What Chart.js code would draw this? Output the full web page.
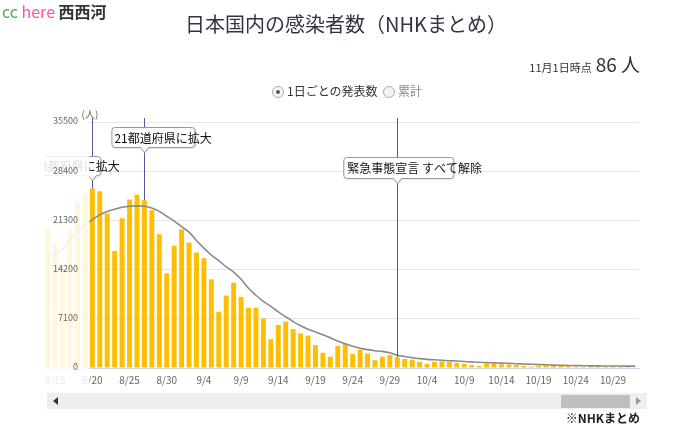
<!DOCTYPE html>
<html>
<head>
<meta charset="utf-8">
<script src="https://cdn.jsdelivr.net/npm/chart.js@4"></script>
<style>
  body { margin: 0; width: 684px; height: 436px; overflow: hidden; background: #fff;
         font-family: "Noto Sans CJK JP", "Noto Sans", sans-serif; color: #333; }
  #chart { position: absolute; left: 0; top: 0; }
  .abs { position: absolute; white-space: nowrap; }
  #logo { left: 2px; top: 0px; font-size: 16px; line-height: 22px; }
  #title { left: 0; width: 692px; top: 10px; text-align: center; font-size: 20px; line-height: 28px; color: #333344; }
  #asof { right: 44px; top: 50px; font-size: 11px; line-height: 28px; }
  #asof b { font-weight: normal; font-size: 19px; margin-left: 4px; }
  #radios { left: 272px; top: 82px; font-size: 12px; line-height: 18px; }
  .rb { display: inline-block; width: 10px; height: 10px; border: 1px solid #aaa; border-radius: 50%;
        vertical-align: -2px; position: relative; margin-right: 3px; background: #f4f4f4; }
  .rb.on::after { content: ""; position: absolute; left: 3px; top: 3px; width: 4px; height: 4px;
        border-radius: 50%; background: #4a5a70; }
  #scroll { left: 47px; top: 393px; width: 600px; height: 16px; background: #efefef; }
  #thumb { left: 561px; top: 395px; width: 69px; height: 13px; background: #bfbfbf; }
  #arrL { left: 53px; top: 397px; width: 0; height: 0; border-top: 4px solid transparent;
          border-bottom: 4px solid transparent; border-right: 5px solid #333; }
  #arrR { left: 636px; top: 397px; width: 0; height: 0; border-top: 4px solid transparent;
          border-bottom: 4px solid transparent; border-left: 5px solid #999; }
  #src { right: 44px; top: 409px; font-size: 12px; font-weight: bold; line-height: 18px; color: #222; }
</style>
</head>
<body>
<canvas id="chart" width="684" height="436"></canvas>
<div class="abs" id="logo"><span style="color:#4caf50">cc</span> <span style="color:#ff4fa3">here</span> <span style="font-weight:bold;color:#333">西西河</span></div>
<div class="abs" id="title">日本国内の感染者数（NHKまとめ）</div>
<div class="abs" id="asof">11月1日時点<b>86 人</b></div>
<div class="abs" id="radios"><span class="rb on"></span>1日ごとの発表数 &nbsp;<span class="rb"></span><span style="color:#888">累計</span></div>
<div class="abs" id="scroll"></div>
<div class="abs" id="thumb"></div>
<div class="abs" id="arrL"></div>
<div class="abs" id="arrR"></div>
<div class="abs" id="src">※NHKまとめ</div>
<script>
// --- Data (8/14 - 11/1) ---
const days = [
    '8/14', '8/15', '8/16', '8/17', '8/18', '8/19', '8/20', '8/21', '8/22', '8/23',
    '8/24', '8/25', '8/26', '8/27', '8/28', '8/29', '8/30', '8/31', '9/1', '9/2',
    '9/3', '9/4', '9/5', '9/6', '9/7', '9/8', '9/9', '9/10', '9/11', '9/12',
    '9/13', '9/14', '9/15', '9/16', '9/17', '9/18', '9/19', '9/20', '9/21', '9/22',
    '9/23', '9/24', '9/25', '9/26', '9/27', '9/28', '9/29', '9/30', '10/1', '10/2',
    '10/3', '10/4', '10/5', '10/6', '10/7', '10/8', '10/9', '10/10', '10/11', '10/12',
    '10/13', '10/14', '10/15', '10/16', '10/17', '10/18', '10/19', '10/20', '10/21', '10/22',
    '10/23', '10/24', '10/25', '10/26', '10/27', '10/28', '10/29', '10/30', '10/31', '11/1'
];

const dailyCases = [
    20160, 17860, 14400, 19950, 23900, 25150, 25900, 25500, 22300, 16900,
    21600, 24300, 25000, 24200, 22750, 19300, 13650, 17650, 20000, 18100,
    16650, 15850, 12800, 8100, 10450, 12300, 10250, 8700, 8700, 7150,
    4150, 6200, 6700, 5600, 5000, 4680, 3300, 2200, 1630, 3180,
    3500, 2030, 2640, 2100, 1120, 1630, 1880, 1540, 1300, 1200,
    900, 580, 900, 950, 900, 720, 580, 430, 290, 620,
    620, 530, 480, 430, 290, 200, 330, 380, 320, 300,
    270, 220, 140, 290, 320, 280, 270, 230, 160, 86
];

const weeklyAverage = [
    16000, 16500, 17100, 18500, 19700, 20600, 21400, 22100, 22600, 22900,
    23200, 23350, 23400, 23350, 23100, 22600, 21900, 21200, 20400, 19600,
    18400, 17300, 16300, 15500, 14600, 13850, 12800, 11500, 10500, 9600,
    8900, 8100, 7400, 6700, 6100, 5600, 5200, 4800, 4350, 3900,
    3500, 3150, 2850, 2650, 2500, 2400, 2200, 1850, 1650, 1500,
    1350, 1250, 1180, 1120, 1050, 1000, 940, 880, 820, 780,
    740, 710, 670, 620, 580, 540, 500, 460, 420, 390,
    370, 350, 330, 310, 300, 290, 285, 280, 275, 270
];

const xTickLabels = ['8/15', '8/20', '8/25', '8/30', '9/4', '9/9', '9/14', '9/19', '9/24',
    '9/29', '10/4', '10/9', '10/14', '10/19', '10/24', '10/29'];
const yTicks = [0, 7100, 14200, 21300, 28400, 35500];

const events = [
    { day: '8/20', text: '13都府県に拡大' },
    { day: '8/27', text: '21都道府県に拡大' },
    { day: '9/30', text: '緊急事態宣言 すべて解除' }
];

// label box styles, one per event (offsets from the pointer)
const eventBoxes = [
    { dx: -76, w: 84, top: 156, h: 19, tx: 18 },
    { dx: -33, w: 83, top: 127, h: 20, tx: 3 },
    { dx: -54, w: 110, top: 157, h: 21, tx: 4 }
];

const FONT = '"Noto Sans CJK JP", "Noto Sans", sans-serif';

function roundedCallout(ctx, x, y, w, h, px, r) {
    ctx.beginPath();
    ctx.moveTo(x + r, y);
    ctx.lineTo(x + w - r, y);
    ctx.quadraticCurveTo(x + w, y, x + w, y + r);
    ctx.lineTo(x + w, y + h - r);
    ctx.quadraticCurveTo(x + w, y + h, x + w - r, y + h);
    ctx.lineTo(px + 4, y + h);
    ctx.lineTo(px, y + h + 5);
    ctx.lineTo(px - 4, y + h);
    ctx.lineTo(x + r, y + h);
    ctx.quadraticCurveTo(x, y + h, x, y + h - r);
    ctx.lineTo(x, y + r);
    ctx.quadraticCurveTo(x, y, x + r, y);
    ctx.closePath();
}

// --- Overlay plugin: event markers, faded scroll edge, y labels ---
const overlayPlugin = {
    id: 'overlay',
    afterDraw(chart) {
        const { ctx, chartArea } = chart;
        const xs = chart.scales.x;
        const ys = chart.scales.y;
        ctx.save();

        // event markers
        ctx.beginPath();
        ctx.rect(chartArea.left, 0, chartArea.right - chartArea.left, chartArea.bottom);
        ctx.clip();
        events.forEach((ev, i) => {
            const idx = days.indexOf(ev.day);
            const x = xs.getPixelForValue(idx);
            const barTop = ys.getPixelForValue(dailyCases[idx]);
            const b = eventBoxes[i];
            ctx.strokeStyle = '#55559a';
            ctx.lineWidth = 1;
            ctx.beginPath();
            ctx.moveTo(Math.round(x) + 0.5, chartArea.top - 4);
            ctx.lineTo(Math.round(x) + 0.5, barTop);
            ctx.stroke();

            roundedCallout(ctx, x + b.dx + 0.5, b.top + 0.5, b.w, b.h, Math.round(x) + 0.5, 3);
            ctx.shadowColor = 'rgba(0,0,0,0.15)';
            ctx.shadowOffsetX = 1;
            ctx.shadowOffsetY = 1;
            ctx.shadowBlur = 2;
            ctx.fillStyle = '#fff';
            ctx.fill();
            ctx.shadowColor = 'transparent';
            ctx.strokeStyle = '#999';
            ctx.stroke();

            ctx.fillStyle = '#111';
            ctx.font = '12px ' + FONT;
            ctx.textAlign = 'left';
            ctx.textBaseline = 'middle';
            ctx.fillText(ev.text, x + b.dx + b.tx, b.top + b.h / 2 + 1);
        });
        ctx.restore();
        ctx.save();

        // faded left edge of the scrolled view
        const firstFull = days.indexOf('8/20');
        const fadeRight = xs.getPixelForValue(firstFull) - 3;
        ctx.fillStyle = 'rgba(255,255,255,0.86)';
        ctx.fillRect(0, chartArea.top - 14, fadeRight, chartArea.bottom - chartArea.top + 36);

        // y tick labels drawn over the plot
        ctx.fillStyle = '#666';
        ctx.font = '9px ' + FONT;
        ctx.textAlign = 'right';
        ctx.textBaseline = 'middle';
        yTicks.forEach(v => {
            ctx.fillText(String(v), chartArea.left + 34, ys.getPixelForValue(v) - 1);
        });
        ctx.font = '10px ' + FONT;
        ctx.textAlign = 'center';
        ctx.fillText('(人)', chartArea.left + 46, chartArea.top - 8);
        ctx.restore();
    }
};

new Chart(document.getElementById('chart'), {
    data: {
        labels: days,
        datasets: [
            {
                type: 'line', label: '7日間平均', data: weeklyAverage,
                borderColor: '#8a8a8a', borderWidth: 1.6, pointRadius: 0, tension: 0.35, order: 0
            },
            {
                type: 'bar', label: '1日ごとの発表数', data: dailyCases,
                backgroundColor: '#ffbf00', borderWidth: 0,
                barPercentage: 0.92, categoryPercentage: 0.72, order: 1
            }
        ]
    },
    options: {
        responsive: false, animation: false,
        layout: { padding: { left: 44, right: 45, top: 122, bottom: 44 } },
        plugins: { legend: { display: false }, tooltip: { enabled: false } },
        scales: {
            x: {
                grid: { display: false, drawTicks: false },
                border: { color: '#ccd6eb' },
                afterFit: s => { s.height = 24; },
                ticks: {
                    autoSkip: false, maxRotation: 0, padding: 6, color: '#666',
                    font: { size: 10, family: FONT },
                    callback: function(v, i) {
                        const l = days[i];
                        return xTickLabels.includes(l) ? l : '';
                    }
                }
            },
            y: {
                min: 0, max: 35500,
                afterFit: s => { s.width = 0; },
                grid: { color: '#e6e6e6', drawTicks: false },
                border: { display: false },
                ticks: { display: false, stepSize: 7100 }
            }
        }
    },
    plugins: [overlayPlugin]
});
</script>
</body>
</html>
